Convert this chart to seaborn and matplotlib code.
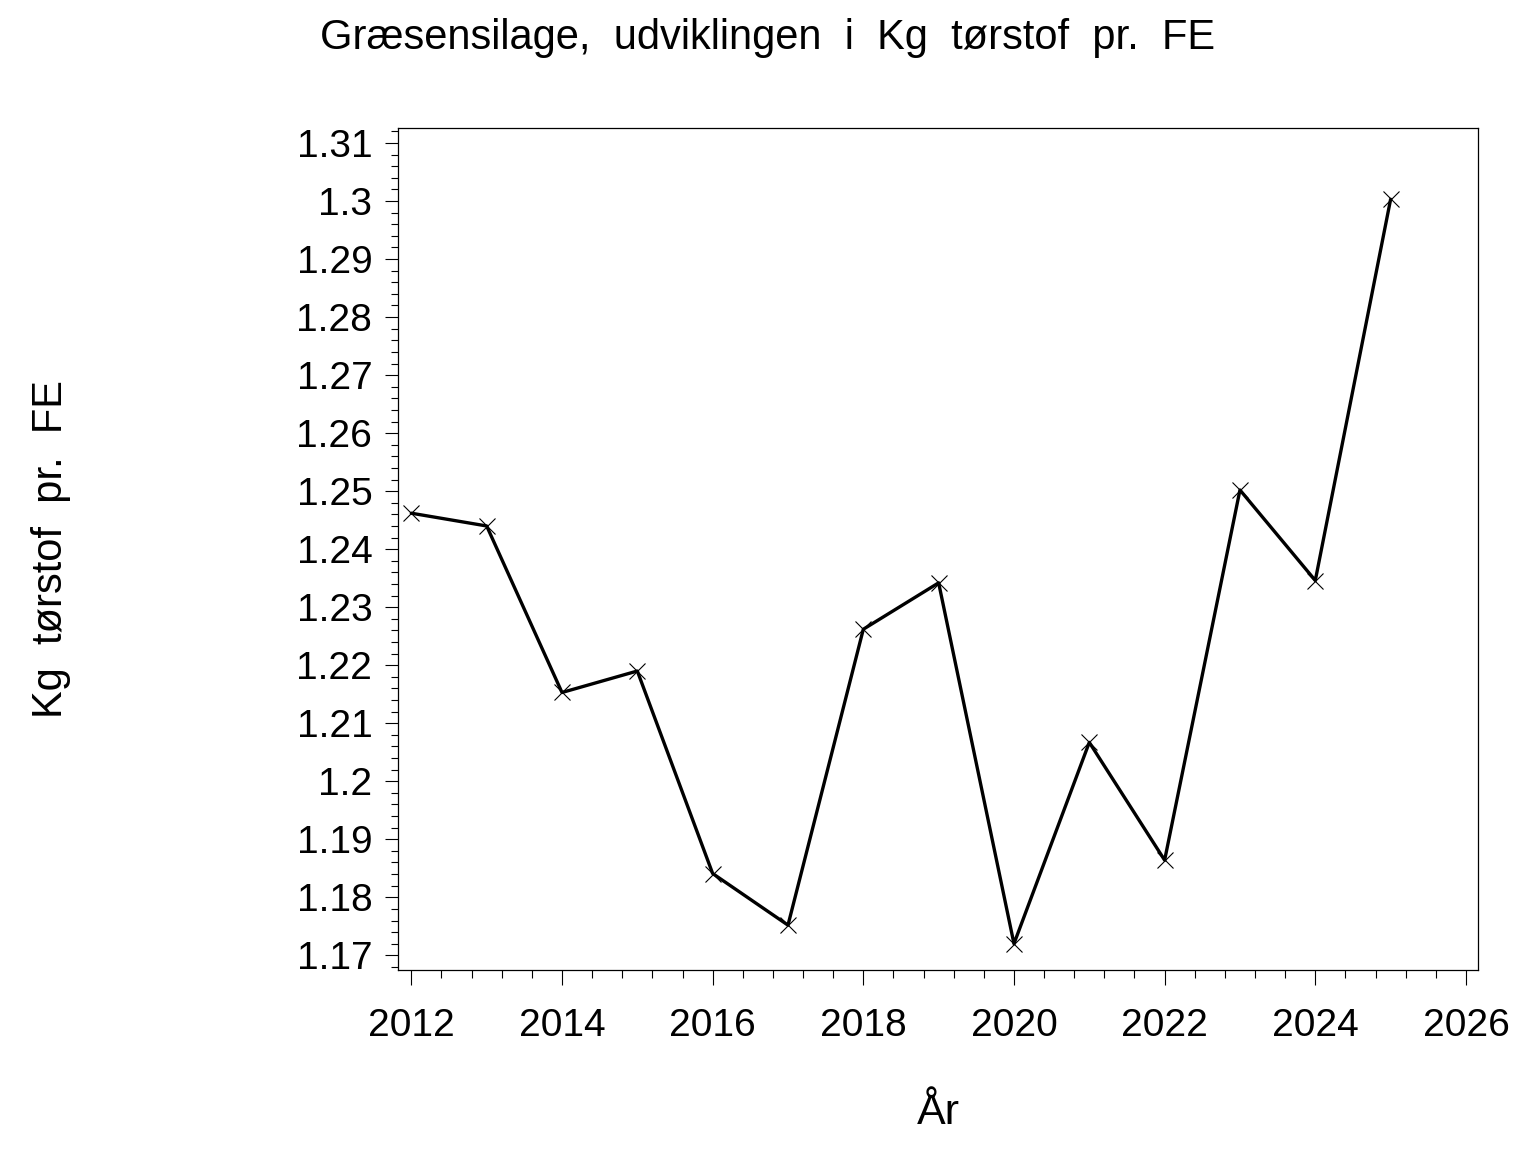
import numpy as np
import pandas as pd
import matplotlib
matplotlib.use("Agg")
import matplotlib.pyplot as plt
from matplotlib.ticker import FixedLocator, MultipleLocator, FuncFormatter
import seaborn as sns

years = [2012, 2013, 2014, 2015, 2016, 2017, 2018, 2019, 2020, 2021, 2022, 2023, 2024, 2025]
kg_ts_per_fe = [1.2462, 1.2440, 1.2153, 1.2190, 1.1841, 1.1752, 1.2262,
                1.2342, 1.1720, 1.2067, 1.1864, 1.2502, 1.2346, 1.3003]

title = "Græsensilage,  udviklingen  i  Kg  tørstof  pr.  FE"
xlabel = "År"
ylabel = "Kg  tørstof  pr.  FE"

df = pd.DataFrame({"aar": years, "kg": kg_ts_per_fe})

sns.set_style("white")
plt.rcParams['font.family'] = ['Liberation Sans', 'DejaVu Sans']
plt.rcParams['text.color'] = 'black'
plt.rcParams['axes.labelcolor'] = 'black'
plt.rcParams['xtick.color'] = 'black'
plt.rcParams['ytick.color'] = 'black'

fig = plt.figure(figsize=(15.36, 11.52), dpi=100)
ax = fig.add_axes([398 / 1536, 1 - 970 / 1152, (1478 - 398) / 1536, (970 - 128) / 1152])

sns.lineplot(data=df, x="aar", y="kg", ax=ax, color="black", linewidth=2.4,
             marker="x", markersize=11.5, markeredgewidth=0.8, markeredgecolor="black")

ax.set_xlim(2011.823, 2026.16)
ax.set_ylim(1.16747, 1.31259)

ax.xaxis.set_major_locator(FixedLocator(np.arange(2012, 2027, 2)))
ax.xaxis.set_minor_locator(FixedLocator([2012 + 0.4 * i for i in range(36) if i % 5 != 0]))
ax.yaxis.set_major_locator(FixedLocator(np.round(np.arange(1.17, 1.311, 0.01), 2)))
ax.yaxis.set_minor_locator(MultipleLocator(0.002))
ax.xaxis.set_major_formatter(FuncFormatter(lambda v, p: f"{v:.0f}"))
ax.yaxis.set_major_formatter(FuncFormatter(lambda v, p: f"{v:g}"))

ax.tick_params(axis="x", which="major", direction="out", length=11, width=0.8,
               labelsize=28, pad=16, bottom=True, top=False)
ax.tick_params(axis="x", which="minor", direction="out", length=5.5, width=0.8,
               bottom=True, top=False)
ax.tick_params(axis="y", which="major", direction="out", length=9.5, width=0.8,
               labelsize=28, pad=9, left=True, right=False)
ax.tick_params(axis="y", which="minor", direction="out", length=5, width=0.8,
               left=True, right=False)

for s in ax.spines.values():
    s.set_visible(True)
    s.set_color("black")
    s.set_linewidth(0.9)

ax.set_xlabel(xlabel, fontsize=31, labelpad=36)
ax.set_ylabel(ylabel, fontsize=30, labelpad=162)
fig.suptitle(title, fontsize=30, x=0.5, y=1 - 38 / 1152, va="center")

fig.savefig("out.png", dpi=100, facecolor="white")
